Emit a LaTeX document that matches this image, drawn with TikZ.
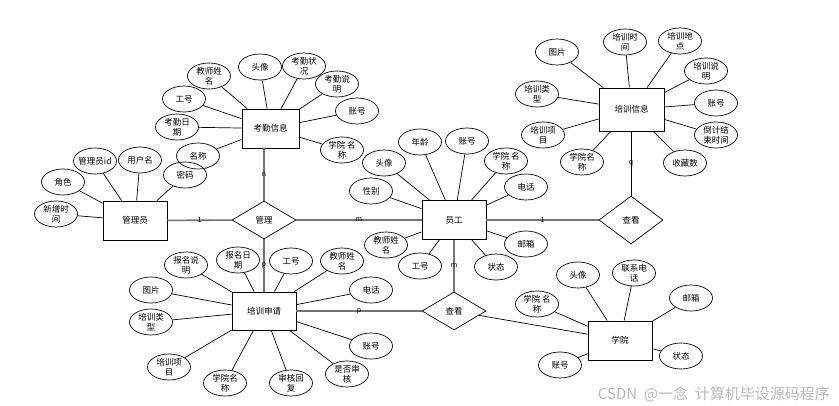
\documentclass[tikz,border=0pt]{standalone}
\usepackage{fontspec}
\setmainfont{Noto Sans CJK SC}
\usetikzlibrary{shapes.geometric}
\begin{document}
\begin{tikzpicture}[x=1pt,y=-1pt,
  every node/.style={font=\fontsize{8.5}{10}\selectfont, align=center},
  ent/.style={draw, line width=0.8pt, minimum width=64pt, minimum height=39pt, inner sep=0pt},
  rel/.style={draw, diamond, line width=0.7pt, minimum width=64pt, minimum height=38pt, inner sep=0pt},
  attr/.style={draw, ellipse, line width=0.7pt, minimum width=43pt, minimum height=26pt, inner sep=-2pt},
  al/.style={line width=0.7pt},
  rl/.style={line width=1.6pt, black!55},
  card/.style={font=\fontsize{7}{7}\selectfont, inner sep=0pt, text=black}
]
\useasboundingbox (0,0) rectangle (839,406);

% entities
\node[ent] (gly) at (135,220.5) {管理员};
\node[ent, minimum width=57pt] (kq) at (270.5,128.5) {考勤信息};
\node[ent] (yg) at (454,220) {员工};
\node[ent, minimum width=65pt, minimum height=43pt] (px) at (631.5,109.5) {培训信息};
\node[ent, minimum height=38pt] (sq) at (264,311) {培训申请};
\node[ent] (xy) at (620,340.5) {学院};

% relations
\node[rel] (gl) at (264,220) {管理};
\node[rel, minimum height=48pt] (ck1) at (631,220) {查看};
\node[rel] (ck2) at (454,311) {查看};

% relation connectors
\draw[rl] (gly) -- node[card]{1} (gl);
\draw[rl] (gl) -- node[card]{m} (yg);
\draw[rl] (gl.north |- kq.south) -- node[card]{n} (gl.north);
\draw[rl] (gl) -- node[card]{p} (sq);
\draw[rl] (yg) -- node[card]{1} (ck1);
\draw[al] (ck1.north) -- node[card]{q} (ck1.north |- px.south);
\draw[rl] (yg) -- node[card]{m} (ck2);
\draw[rl] (sq) -- node[card]{p} (ck2);
\draw[al] (ck2) -- (xy.169);

% attributes of 管理员
\foreach \x/\y/\t [count=\i] in {63/182/角色, 95/161/管理员id, 140/160/用户名, 185/175/密码, 56/214/{新增时\\间}}
  {\node[attr] (ga\i) at (\x,\y) {\t}; \draw[al] (ga\i) -- (gly);}

% attributes of 考勤信息
\foreach \x/\y/\t [count=\i] in {209/76/{教师姓\\名}, 260/67/头像, 304/66/{考勤状\\况}, 337/84/{考勤说\\明}, 357/111/账号, 342/150/{学院 名\\称}, 184/99/工号, 177/127/{考勤日\\期}, 198/156/名称}
  {\node[attr] (ka\i) at (\x,\y) {\t}; \draw[al] (ka\i) -- (kq);}

% attributes of 员工
\foreach \x/\y/\t [count=\i] in {420/142/年龄, 467/141/账号, 506/161/{学院 名\\称}, 526/187/电话, 384/163/头像, 371/191/性别, 386/245/{教师姓\\名}, 420/266/工号, 496/267/状态, 526/244/邮箱}
  {\node[attr] (ya\i) at (\x,\y) {\t}; \draw[al] (ya\i) -- (yg);}

% attributes of 培训信息
\foreach \x/\y/\t [count=\i] in {557/52/图片, 625/42/{培训时\\间}, 680/41/{培训地\\点}, 706/71/{培训说\\明}, 716/103/账号, 716/135/{倒计结\\束时间}, 685/163/收藏数, 582/162/{学院名\\称}, 543/135/{培训项\\目}, 537/94/{培训类\\型}}
  {\node[attr] (pa\i) at (\x,\y) {\t}; \draw[al] (pa\i) -- (px);}

% attributes of 培训申请
\foreach \x/\y/\t [count=\i] in {186/265/{报名说\\明}, 238/260/{报名日\\期}, 291/261/工号, 342/261/{教师姓\\名}, 371/290/电话, 371/346/账号, 347/374/{是否审\\核}, 291/383/{审核回\\复}, 225/383/{学院名\\称}, 169/367/{培训项\\目}, 151/322/{培训类\\型}, 151/290/图片}
  {\node[attr] (sa\i) at (\x,\y) {\t}; \draw[al] (sa\i) -- (sq);}

% attributes of 学院
\foreach \x/\y/\t [count=\i] in {537/304/{学院 名\\称}, 578/275/头像, 634/273/{联系电\\话}, 691/298/邮箱, 681/356/状态, 560/365/账号}
  {\node[attr] (xa\i) at (\x,\y) {\t}; \draw[al] (xa\i) -- (xy);}

% watermark
\node[text=black!28, font=\fontsize{15}{15}\selectfont, anchor=east, inner sep=0pt] (wm) at (830,394) {CSDN\ \ @一念\ \ 计算机毕设源码程序};
\end{tikzpicture}
\end{document}
